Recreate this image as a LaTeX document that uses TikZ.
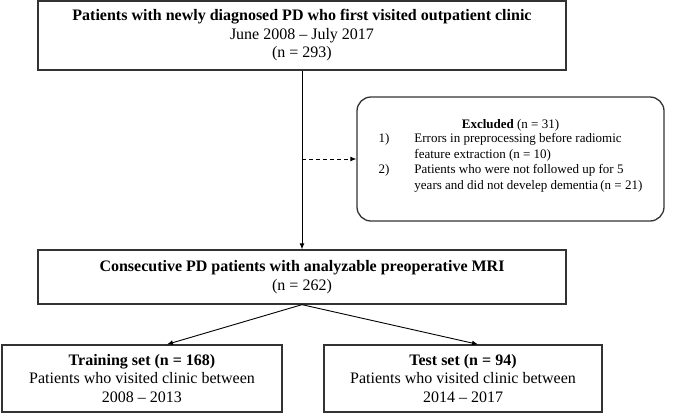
\documentclass[tikz,border=0pt]{standalone}
\usepackage{fontspec}
\setmainfont{Liberation Serif}
\usetikzlibrary{arrows.meta}
\begin{document}
\begin{tikzpicture}[x=1pt,y=-1pt,
  box/.style={draw=black!80, line width=1.3pt, inner sep=0pt, align=center,
    font=\fontsize{16}{18.5}\selectfont},
  exbox/.style={box, rounded corners=14pt, font=\fontsize{13}{15.5}\selectfont},
  conn/.style={line width=0.9pt, -{Latex[length=6pt,width=5pt]}}]
\useasboundingbox (0,0) rectangle (675,416);
\node[box, minimum width=528pt, minimum height=69pt] (top) at (302,35.5)
  {\textbf{Patients with newly diagnosed PD who first visited outpatient clinic}\\
   June 2008 – July 2017\\ (n = 293)};
\node[exbox, minimum width=307pt, minimum height=124pt] (excl) at (510.5,159)
  {\textbf{Excluded} (n = 31)\\
   \begin{tabular}{@{}l@{\hspace{25pt}}l@{}}
   1) & Errors in preprocessing before radiomic\\
      & feature extraction (n = 10)\\
   2) & Patients who were not followed up for 5\\
      & years and did not develep dementia\,(n = 21)
   \end{tabular}\\[4pt]};
\node[box, minimum width=528pt, minimum height=54pt] (mid) at (302,277)
  {\textbf{Consecutive PD patients with analyzable preoperative MRI}\\ (n = 262)};
\node[box, minimum width=280pt, minimum height=67pt] (train) at (142,378.5)
  {\textbf{Training set (n = 168)}\\ Patients who visited clinic between\\ 2008 – 2013};
\node[box, minimum width=278pt, minimum height=67pt] (test) at (463,378.5)
  {\textbf{Test set (n = 94)}\\ Patients who visited clinic between\\ 2014 – 2017};
\draw[conn] (top.south) -- (mid.north);
\draw[conn, dash pattern=on 4pt off 3pt] (top.south |- excl.west) -- (excl.west);
\draw[conn] (mid.south) -- ([xshift=25pt]train.north);
\draw[conn] (mid.south) -- ([xshift=15pt]test.north);
\end{tikzpicture}
\end{document}
